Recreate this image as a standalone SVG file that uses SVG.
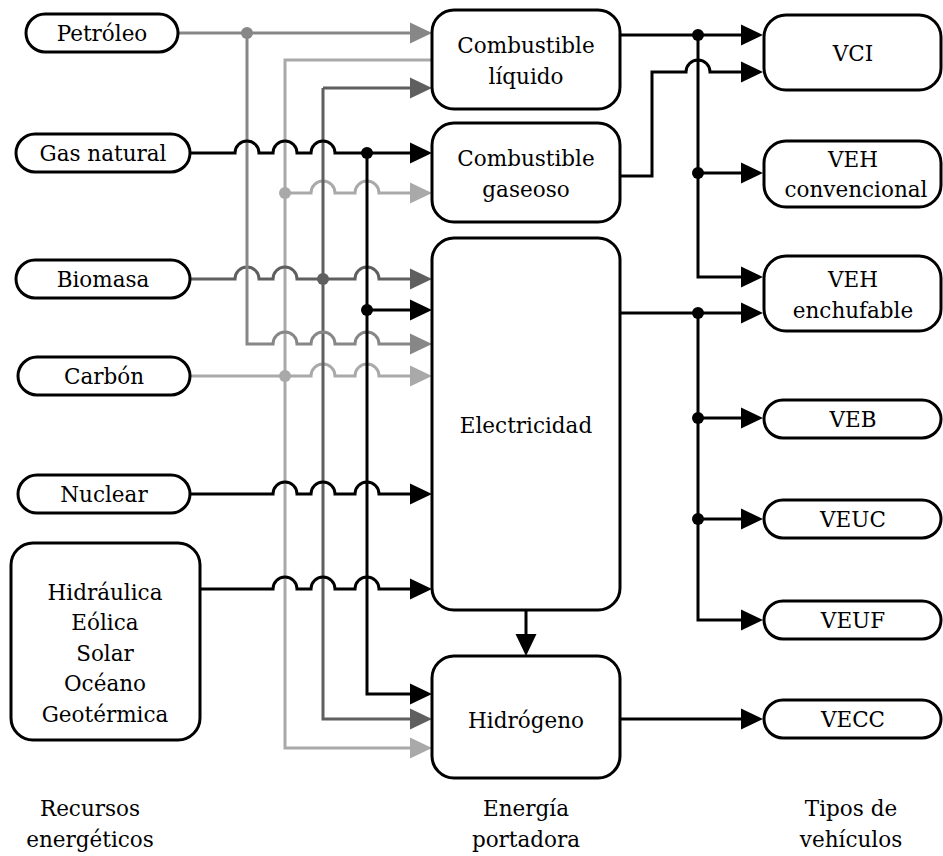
<svg xmlns="http://www.w3.org/2000/svg" width="943" height="856" viewBox="0 0 943 856" font-family="DejaVu Serif, serif">
  <style>
    .box { fill: #fff; stroke: #000; stroke-width: 3; }
    .t { font-size: 21.5px; text-anchor: middle; fill: #000; }
    .w { fill: none; stroke-width: 3; stroke-linejoin: miter; }
    .k { stroke: #000; }
    .dk { stroke: #5f5f5f; }
    .md { stroke: #878787; }
    .lt { stroke: #a9a9a9; }
    .ak { marker-end: url(#ak); }
    .adk { marker-end: url(#adk); }
    .amd { marker-end: url(#amd); }
    .alt { marker-end: url(#alt); }
  </style>
  <defs>
    <marker id="ak" markerWidth="22" markerHeight="21" refX="18" refY="10.5" orient="auto" markerUnits="userSpaceOnUse" overflow="visible">
      <path d="M0,0 L22,10.5 L0,21 Z" fill="#000"/>
    </marker>
    <marker id="adk" markerWidth="22" markerHeight="21" refX="18" refY="10.5" orient="auto" markerUnits="userSpaceOnUse" overflow="visible">
      <path d="M0,0 L22,10.5 L0,21 Z" fill="#5f5f5f"/>
    </marker>
    <marker id="amd" markerWidth="22" markerHeight="21" refX="18" refY="10.5" orient="auto" markerUnits="userSpaceOnUse" overflow="visible">
      <path d="M0,0 L22,10.5 L0,21 Z" fill="#878787"/>
    </marker>
    <marker id="alt" markerWidth="22" markerHeight="21" refX="18" refY="10.5" orient="auto" markerUnits="userSpaceOnUse" overflow="visible">
      <path d="M0,0 L22,10.5 L0,21 Z" fill="#a9a9a9"/>
    </marker>
  </defs>

  <rect width="943" height="856" fill="#fff"/>

  <!-- connectors (hops drawn as small upward semicircles, r = 12) -->
  <g id="connectors">
    <!-- light grey: carbón -->
    <path class="w lt alt" d="M432,60 H285 V748 H428"/>
    <path class="w lt alt" d="M285,193 H311 a12,12 0 0 1 24,0 H355 a12,12 0 0 1 24,0 H428"/>
    <path class="w lt alt" d="M190,376 H311 a12,12 0 0 1 24,0 H355 a12,12 0 0 1 24,0 H428"/>
    <circle cx="285" cy="193" r="6" fill="#a9a9a9"/>
    <circle cx="285" cy="376" r="6" fill="#a9a9a9"/>

    <!-- dark grey: biomasa -->
    <path class="w dk adk" d="M323,88 H428"/>
    <path class="w dk adk" d="M323,88 V719 H428"/>
    <path class="w dk adk" d="M190,279 H235 a12,12 0 0 1 24,0 H273 a12,12 0 0 1 24,0 H355 a12,12 0 0 1 24,0 H428"/>
    <circle cx="323" cy="279" r="6" fill="#5f5f5f"/>

    <!-- medium grey: petróleo -->
    <path class="w md amd" d="M178,33 H428"/>
    <path class="w md amd" d="M247,33 V344 H273 a12,12 0 0 1 24,0 H311 a12,12 0 0 1 24,0 H355 a12,12 0 0 1 24,0 H428"/>
    <circle cx="247" cy="33" r="6" fill="#878787"/>

    <!-- black: gas natural, nuclear, renovables -->
    <path class="w k ak" d="M190,153 H235 a12,12 0 0 1 24,0 H273 a12,12 0 0 1 24,0 H311 a12,12 0 0 1 24,0 H428"/>
    <path class="w k ak" d="M367,153 V694 H428"/>
    <path class="w k ak" d="M367,310 H428"/>
    <path class="w k ak" d="M190,494 H273 a12,12 0 0 1 24,0 H311 a12,12 0 0 1 24,0 H355 a12,12 0 0 1 24,0 H428"/>
    <path class="w k ak" d="M200,589 H273 a12,12 0 0 1 24,0 H311 a12,12 0 0 1 24,0 H355 a12,12 0 0 1 24,0 H428"/>
    <circle cx="367" cy="153" r="6" fill="#000"/>
    <circle cx="367" cy="310" r="6" fill="#000"/>

    <!-- electricidad to hidrógeno -->
    <path class="w k ak" d="M526,610 V652"/>

    <!-- carriers to vehicles -->
    <path class="w k ak" d="M620,35 H759"/>
    <path class="w k ak" d="M698,35 V277 H759"/>
    <path class="w k ak" d="M698,173 H759"/>
    <path class="w k ak" d="M620,176 H652 V72 H686 a12,12 0 0 1 24,0 H759"/>
    <path class="w k ak" d="M620,313 H759"/>
    <path class="w k ak" d="M698,313 V620 H759"/>
    <path class="w k ak" d="M698,418 H759"/>
    <path class="w k ak" d="M698,519 H759"/>
    <path class="w k ak" d="M620,719 H759"/>
    <circle cx="698" cy="35" r="6" fill="#000"/>
    <circle cx="698" cy="173" r="6" fill="#000"/>
    <circle cx="698" cy="313" r="6" fill="#000"/>
    <circle cx="698" cy="418" r="6" fill="#000"/>
    <circle cx="698" cy="519" r="6" fill="#000"/>
  </g>

  <!-- energy resources -->
  <g id="petroleo">
    <rect class="box" x="26" y="14" width="152" height="38" rx="19"/>
    <text class="t" x="102" y="41">Petróleo</text>
  </g>
  <g id="gas-natural">
    <rect class="box" x="16" y="134" width="174" height="38" rx="19"/>
    <text class="t" x="103" y="161">Gas natural</text>
  </g>
  <g id="biomasa">
    <rect class="box" x="16" y="260" width="174" height="38" rx="19"/>
    <text class="t" x="103" y="287">Biomasa</text>
  </g>
  <g id="carbon">
    <rect class="box" x="18" y="357" width="172" height="38" rx="19"/>
    <text class="t" x="104" y="384">Carbón</text>
  </g>
  <g id="nuclear">
    <rect class="box" x="18" y="475" width="172" height="38" rx="19"/>
    <text class="t" x="104" y="502">Nuclear</text>
  </g>
  <g id="renovables">
    <rect class="box" x="11" y="543" width="189" height="197" rx="22"/>
    <text class="t" x="105" y="600">Hidráulica</text>
    <text class="t" x="105" y="630">Eólica</text>
    <text class="t" x="105" y="661">Solar</text>
    <text class="t" x="105" y="691">Océano</text>
    <text class="t" x="105" y="722">Geotérmica</text>
  </g>

  <!-- energy carriers -->
  <g id="combustible-liquido">
    <rect class="box" x="432" y="10" width="188" height="99" rx="22"/>
    <text class="t" x="526" y="53">Combustible</text>
    <text class="t" x="526" y="84">líquido</text>
  </g>
  <g id="combustible-gaseoso">
    <rect class="box" x="432" y="123" width="188" height="99" rx="22"/>
    <text class="t" x="526" y="166">Combustible</text>
    <text class="t" x="526" y="197">gaseoso</text>
  </g>
  <g id="electricidad">
    <rect class="box" x="432" y="238" width="188" height="372" rx="22"/>
    <text class="t" x="526" y="433">Electricidad</text>
  </g>
  <g id="hidrogeno">
    <rect class="box" x="432" y="656" width="188" height="122" rx="22"/>
    <text class="t" x="526" y="728">Hidrógeno</text>
  </g>

  <!-- vehicle types -->
  <g id="vci">
    <rect class="box" x="764" y="15" width="177" height="75" rx="22"/>
    <text class="t" x="853" y="61">VCI</text>
  </g>
  <g id="veh-convencional">
    <rect class="box" x="764" y="141" width="177" height="66" rx="22"/>
    <text class="t" x="853" y="167">VEH</text>
    <text class="t" x="856" y="197">convencional</text>
  </g>
  <g id="veh-enchufable">
    <rect class="box" x="764" y="256" width="177" height="75" rx="22"/>
    <text class="t" x="853" y="287">VEH</text>
    <text class="t" x="853" y="318">enchufable</text>
  </g>
  <g id="veb">
    <rect class="box" x="764" y="400" width="177" height="38" rx="19"/>
    <text class="t" x="853" y="427">VEB</text>
  </g>
  <g id="veuc">
    <rect class="box" x="764" y="500" width="177" height="38" rx="19"/>
    <text class="t" x="853" y="527">VEUC</text>
  </g>
  <g id="veuf">
    <rect class="box" x="764" y="601" width="177" height="38" rx="19"/>
    <text class="t" x="853" y="628">VEUF</text>
  </g>
  <g id="vecc">
    <rect class="box" x="764" y="700" width="177" height="38" rx="19"/>
    <text class="t" x="853" y="727">VECC</text>
  </g>

  <!-- column captions -->
  <g id="captions">
    <text class="t" x="90" y="816">Recursos</text>
    <text class="t" x="90" y="847">energéticos</text>
    <text class="t" x="526" y="816">Energía</text>
    <text class="t" x="526" y="847">portadora</text>
    <text class="t" x="851" y="816">Tipos de</text>
    <text class="t" x="851" y="847">vehículos</text>
  </g>
</svg>
